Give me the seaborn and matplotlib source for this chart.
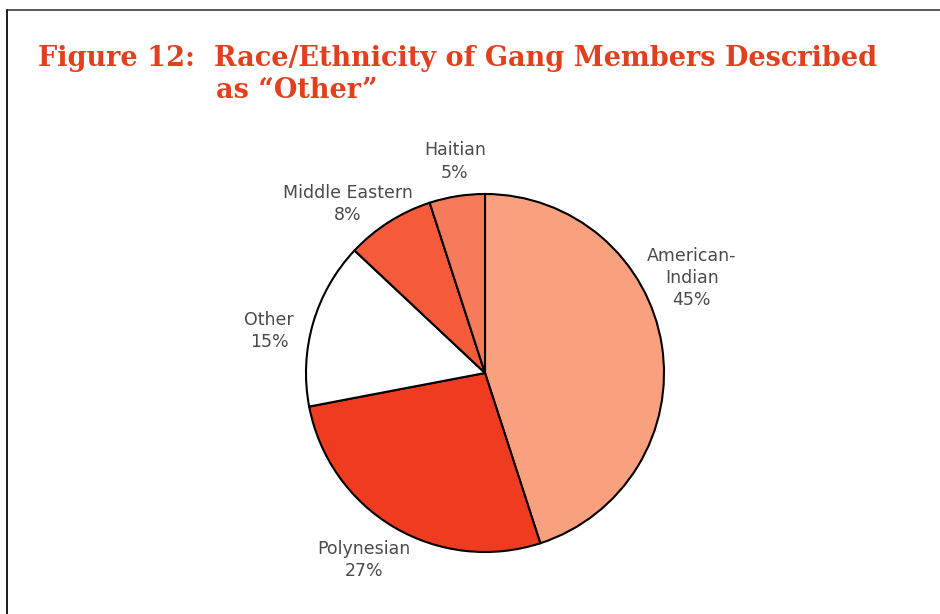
import matplotlib
matplotlib.use("Agg")
import matplotlib.pyplot as plt
import seaborn as sns
from matplotlib.lines import Line2D

# Shares of gang members described as "Other", by race/ethnicity
groups = ["American-\nIndian", "Polynesian", "Other", "Middle Eastern", "Haitian"]
shares = [45, 27, 15, 8, 5]
slice_colors = ["#F9A07F", "#EF3B1F", "#FFFFFF", "#F55B3A", "#F67B5B"]

# label anchor points in pie units (radius = 1)
label_xy = [(1.156, 0.531), (-0.676, -1.045), (-1.207, 0.235), (-0.765, 0.944), (-0.168, 1.182)]

sns.set_theme(style="white")

W, H = 940, 614
R = 179  # px per pie unit
fig = plt.figure(figsize=(W / 100, H / 100), dpi=100)
fig.patch.set_facecolor("white")

# axes scaled so 1 pie unit = R px, centre at (485, 373) px
ax = fig.add_axes([(485 - 2 * R) / W, 0, 4 * R / W, (H - (373 - 2 * R)) / H])
wedges, _ = ax.pie(
    shares,
    colors=slice_colors,
    startangle=90,
    counterclock=False,
    radius=1.0,
    wedgeprops=dict(edgecolor="black", linewidth=1.5),
)
ax.set_xlim(-2, 2)
ax.set_ylim(2 - (H - (373 - 2 * R)) / R, 2)
ax.set_aspect("auto")
ax.axis("off")

for name, pct, (lx, ly) in zip(groups, shares, label_xy):
    ax.text(lx, ly, f"{name}\n{pct}%", ha="center", va="center",
            fontsize=12.5, color="#4a4a4a", family="DejaVu Sans",
            linespacing=1.3)

# page frame: top rule and left rule
fig.add_artist(Line2D([7 / W, 1], [1 - 10 / H, 1 - 10 / H], color="#3a3a3a", lw=1.2))
fig.add_artist(Line2D([7 / W, 7 / W], [1 - 10 / H, 0], color="#1a1a1a", lw=1.4))

title_style = dict(fontsize=19.5, fontweight="bold", color="#E0401E",
                   family="DejaVu Serif", va="baseline", ha="left")
fig.text(38 / W, 1 - 66 / H, "Figure 12:  Race/Ethnicity of Gang Members Described", **title_style)
fig.text(216 / W, 1 - 98 / H, "as \u201cOther\u201d", **title_style)

fig.savefig("out.png", dpi=100)
